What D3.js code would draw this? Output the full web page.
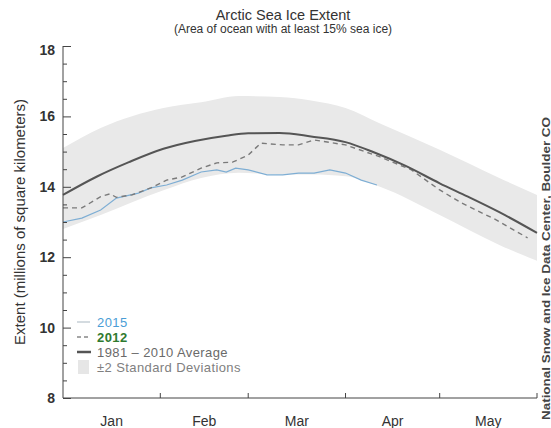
<!DOCTYPE html>
<html>
<head>
<meta charset="utf-8">
<script src="https://cdn.jsdelivr.net/npm/d3@7"></script>
<style>
  body { margin: 0; background: #fff; }
  svg { font-family: "Liberation Sans", Arial, sans-serif; }
</style>
</head>
<body>
<svg id="chart" width="551" height="428"></svg>
<script>
// Arctic sea ice extent, Jan - May (day of year, millions of sq km)

let avgDays = [1, 12, 22, 33, 43, 53, 60, 70, 80, 91, 100, 110, 121, 130, 140, 152]
let avgValues = [13.77, 14.3, 14.7, 15.08, 15.3, 15.45, 15.52, 15.53, 15.43, 15.27, 14.98, 14.6, 14.1, 13.72, 13.28, 12.69]

let sdDays = [1, 13, 33, 45, 57, 70, 80, 91, 102, 121, 140, 152]
let sdUpper = [15.1, 15.67, 16.24, 16.4, 16.58, 16.55, 16.45, 16.24, 15.8, 15.05, 14.25, 13.77]
let sdLower = [12.8, 13.2, 13.9, 14.25, 14.4, 14.35, 14.35, 14.3, 14.0, 13.2, 12.35, 11.9]

let days2015 = [1, 7, 13, 18, 25, 29, 34, 39, 45, 50, 53, 56, 60, 66, 71, 76, 81, 86, 91, 96, 101]
let values2015 = [13.0, 13.11, 13.34, 13.68, 13.82, 13.97, 14.05, 14.19, 14.42, 14.48, 14.42, 14.53, 14.48, 14.34, 14.34, 14.39, 14.39, 14.48, 14.39, 14.19, 14.05]

let days2012 = [1, 7, 13, 16, 18, 23, 29, 34, 39, 45, 50, 55, 60, 64, 71, 76, 81, 91, 102, 112, 121, 128, 139, 149]
let values2012 = [13.4, 13.4, 13.72, 13.8, 13.7, 13.77, 13.97, 14.19, 14.28, 14.53, 14.68, 14.7, 14.9, 15.24, 15.19, 15.19, 15.33, 15.19, 14.85, 14.48, 13.91, 13.54, 13.06, 12.55]

let monthNames = ['Jan', 'Feb', 'Mar', 'Apr', 'May']
let monthStarts = [1, 32, 60, 91, 121, 152]
let yTickLabels = [8, 10, 12, 14, 16, 18]

let legendLabels = ['2015', '2012', '1981 \u2013 2010 Average', '\u00b12 Standard Deviations']
let legendColors = ['#4a9dd6', '#2f7a2f', '#6a6a6a', '#808080']

let svg = d3.select('#chart')

let x = d3.scaleLinear().domain([1, 152]).range([63, 537])
let y = d3.scaleLinear().domain([8, 18]).range([398, 46])

// band
let sdData = d3.zip(sdDays, sdUpper, sdLower)
svg.append('path')
  .datum(sdData)
  .attr('d', d3.area()
    .x(d => x(d[0]))
    .y0(d => y(d[2]))
    .y1(d => y(d[1]))
    .curve(d3.curveMonotoneX))
  .style('fill', '#e9e9e9')

// lines
svg.append('path')
  .datum(d3.zip(days2015, values2015))
  .attr('d', d3.line(d => x(d[0]), d => y(d[1])))
  .style('fill', 'none')
  .style('stroke', '#7eaed4')
  .style('stroke-width', 1.2)

svg.append('path')
  .datum(d3.zip(days2012, values2012))
  .attr('d', d3.line(d => x(d[0]), d => y(d[1])))
  .style('fill', 'none')
  .style('stroke', '#7a7a7a')
  .style('stroke-width', 1.4)
  .style('stroke-dasharray', '5,4')

svg.append('path')
  .datum(d3.zip(avgDays, avgValues))
  .attr('d', d3.line(d => x(d[0]), d => y(d[1])).curve(d3.curveMonotoneX))
  .style('fill', 'none')
  .style('stroke', '#555')
  .style('stroke-width', 2)

// axes
let yAxis = d3.axisRight(y)
  .tickValues(d3.range(8, 18.01, 0.5))
  .tickSize(0)
  .tickFormat('')
let yg = svg.append('g').attr('transform', 'translate(63,0)').call(yAxis)
yg.select('.domain').remove()
yg.selectAll('.tick line')
  .attr('x2', d => Number.isInteger(d) && d % 2 == 0 ? 8 : 4)
  .style('stroke', '#444')

svg.append('line')
  .attr('x1', 63).attr('x2', 63)
  .attr('y1', y(18)).attr('y2', y(8))
  .style('stroke', '#444')

svg.append('g')
  .selectAll('text')
  .data(yTickLabels)
  .join('text')
  .attr('x', 55)
  .attr('y', d => y(d) + (d == 18 ? 9 : 5))
  .attr('text-anchor', 'end')
  .style('font-size', '14px')
  .style('font-weight', 'bold')
  .style('fill', '#333')
  .text(d => d)

svg.append('line')
  .attr('x1', x(1)).attr('x2', x(152))
  .attr('y1', y(8)).attr('y2', y(8))
  .style('stroke', '#444')

svg.append('g')
  .selectAll('line')
  .data(monthStarts.slice(1))
  .join('line')
  .attr('x1', d => x(d)).attr('x2', d => x(d))
  .attr('y1', y(8)).attr('y2', y(8) - 5)
  .style('stroke', '#444')

svg.append('g')
  .selectAll('text')
  .data(monthNames)
  .join('text')
  .attr('x', (d, i) => (x(monthStarts[i]) + x(monthStarts[i + 1])) / 2)
  .attr('y', 426)
  .attr('text-anchor', 'middle')
  .style('font-size', '14px')
  .style('fill', '#333')
  .text(d => d)

// titles
svg.append('text')
  .attr('x', 283).attr('y', 20)
  .attr('text-anchor', 'middle')
  .style('font-size', '14.5px')
  .style('fill', '#333')
  .text('Arctic Sea Ice Extent')

svg.append('text')
  .attr('x', 283).attr('y', 33)
  .attr('text-anchor', 'middle')
  .style('font-size', '12px')
  .style('fill', '#333')
  .text('(Area of ocean with at least 15% sea ice)')

svg.append('text')
  .attr('transform', 'translate(25,222) rotate(-90)')
  .attr('text-anchor', 'middle')
  .style('font-size', '15px')
  .style('fill', '#333')
  .text('Extent (millions of square kilometers)')

svg.append('text')
  .attr('transform', 'translate(550,117) rotate(-90)')
  .attr('text-anchor', 'end')
  .attr('textLength', 303)
  .attr('lengthAdjust', 'spacingAndGlyphs')
  .style('font-size', '11px')
  .style('font-weight', 'bold')
  .style('fill', '#444')
  .text('National Snow and Ice Data Center, Boulder CO')

// legend
let lg = svg.append('g')
let rowY = d => 322 + d * 15
lg.append('line').attr('x1', 77).attr('x2', 90).attr('y1', rowY(0)).attr('y2', rowY(0))
  .style('stroke', '#b8c4cc').style('stroke-width', 1.2)
lg.append('line').attr('x1', 77).attr('x2', 91).attr('y1', rowY(1)).attr('y2', rowY(1))
  .style('stroke', '#888').style('stroke-width', 1.4).style('stroke-dasharray', '4,3')
lg.append('line').attr('x1', 77).attr('x2', 91).attr('y1', rowY(2)).attr('y2', rowY(2))
  .style('stroke', '#555').style('stroke-width', 2.5)
lg.append('rect').attr('x', 78).attr('y', rowY(3) - 7).attr('width', 11).attr('height', 14)
  .style('fill', '#e6e6e6')

lg.selectAll('text')
  .data(legendLabels)
  .join('text')
  .attr('x', 97)
  .attr('y', (d, i) => rowY(i) + 5)
  .style('font-size', '13px')
  .style('letter-spacing', '0.4px')
  .style('font-weight', (d, i) => i == 1 ? 'bold' : 'normal')
  .style('fill', (d, i) => legendColors[i])
  .text(d => d)
</script>
</body>
</html>
